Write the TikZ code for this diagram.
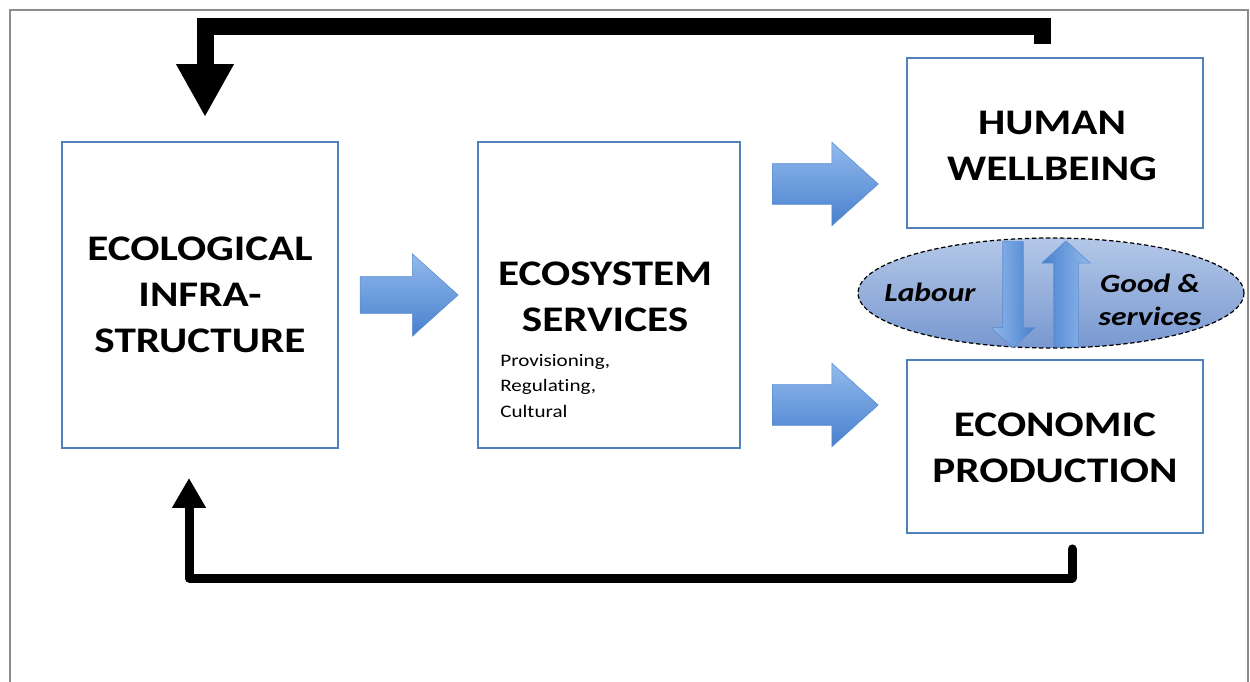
\documentclass[tikz,border=0pt]{standalone}
\usepackage{fontspec}
\setmainfont[FakeStretch=1.2, Ligatures=NoCommon]{Carlito}
\usetikzlibrary{shapes.geometric,shapes.arrows,arrows.meta,calc}
\definecolor{boxblue}{RGB}{79,129,189}
\definecolor{arrowlight}{RGB}{146,186,236}
\definecolor{arrowdark}{RGB}{72,128,206}
\definecolor{arrowedge}{RGB}{90,140,210}
\definecolor{xchlight}{RGB}{180,200,232}
\definecolor{xchdark}{RGB}{120,152,208}
\definecolor{framegray}{RGB}{140,140,140}
\tikzset{
  sbox/.style={rectangle, draw=boxblue, line width=1.1pt, fill=white, inner sep=0pt},
  stitle/.style={align=center, inner sep=0pt, font=\bfseries\fontsize{20.5}{26}\selectfont},
  flow/.style={single arrow, shade, top color=arrowlight, bottom color=arrowdark, draw=arrowedge,
    line width=0.3pt, inner xsep=0pt, inner ysep=0.4cm, minimum height=2.12cm,
    single arrow head extend=0.43cm, single arrow tip angle=84},
  vflow/.style={single arrow, shade, draw=arrowedge, line width=0.3pt, inner xsep=0pt,
    minimum height=2.12cm, single arrow tip angle=95},
  exch/.style={ellipse, shade, top color=xchlight, bottom color=xchdark, draw=black,
    dash pattern=on 2.5pt off 1.5pt, line width=0.7pt, inner sep=0pt,
    minimum width=7.72cm, minimum height=2.2cm},
  xlabel/.style={align=center, inner sep=0pt, font=\bfseries\itshape\fontsize{15}{18.5}\selectfont},
  feedback/.style={line join=miter, -{Triangle[width=1.08cm,length=1.06cm]}}
}
\begin{document}
\begin{tikzpicture}[x=0.02cm, y=-0.02cm]
    \useasboundingbox (0,0) rectangle (1250,682);
    \draw[framegray, line width=1.2pt] (10,682) |- (1248,10) -- (1248,682);

    \node[sbox, minimum width=5.52cm, minimum height=6.12cm] (eco) at (200,295) {};
    \node[sbox, minimum width=5.24cm, minimum height=6.12cm] (ess) at (609,295) {};
    \node[sbox, minimum width=5.92cm, minimum height=3.4cm] (hwb) at (1055,143) {};
    \node[sbox, minimum width=5.92cm, minimum height=3.46cm] (prod) at (1055,446.5) {};

    \node[stitle] (ecot) at (eco) {ECOLOGICAL\\INFRA-\\STRUCTURE};
    \node[stitle] (esst) at (605,297) {ECOSYSTEM\\SERVICES};
    \node[anchor=north west, align=left, inner sep=0pt, font=\fontsize{10}{14.5}\selectfont] (esss) at (500,354) {Provisioning,\\Regulating,\\Cultural};
    \node[stitle] (hwbt) at (1052,146) {HUMAN\\WELLBEING};
    \node[stitle] (prodt) at (1055,448) {ECONOMIC\\PRODUCTION};

    \node[flow, minimum height=1.96cm, inner ysep=0.36cm, single arrow head extend=0.46cm] (a1) at ($(eco.east)!0.5!(ess.west)+(-9,0)$) {};
    \node[flow] (a2) at (814,184) {};
    \node[flow] (a3) at (814,405) {};

    \node[exch] (xch) at (1051,293) {};
    \node[vflow, rotate=-90, inner ysep=0.2cm, single arrow head extend=0.23cm,
      left color=arrowlight, right color=arrowdark] (lab) at (1013,290) {};
    \node[vflow, rotate=90, inner ysep=0.24cm, single arrow head extend=0.24cm,
      right color=arrowlight, left color=arrowdark] (gs) at (1066,299.5) {};
    \node[xlabel] (labt) at (930,292) {Labour};
    \node[xlabel] (gst) at (1150,300) {Good \&\\services};

    \coordinate (hwbout) at ($(hwb.north)+(-13,-13)$);
    \coordinate (toprow) at (205,26.5);
    \coordinate (ecoin) at ($(eco.north)+(5,-24)$);
    \draw[feedback, line width=0.34cm] (hwbout) |- (toprow) -- (ecoin);

    \coordinate (prodout) at ($(prod.south)+(17,15)$);
    \coordinate (botrow) at (189,578);
    \coordinate (ecoback) at ($(eco.south)+(-11,29)$);
    \draw[line width=0.18cm, line join=round, line cap=round,
      -{Triangle[width=0.64cm,length=0.6cm]}] (prodout) |- (botrow) -- (ecoback);
\end{tikzpicture}
\end{document}
